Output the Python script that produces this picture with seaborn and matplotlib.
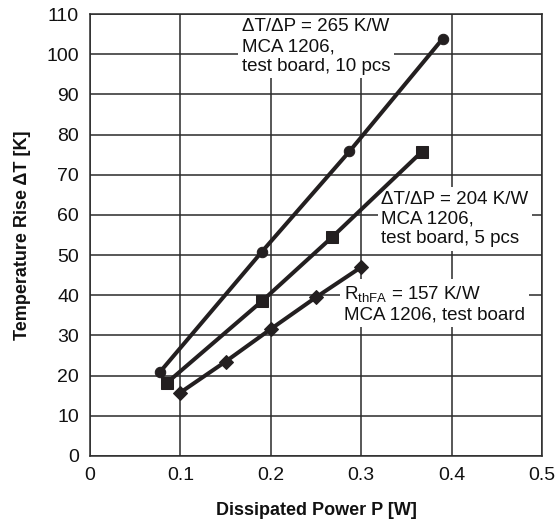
import matplotlib
matplotlib.use("Agg")
import matplotlib.pyplot as plt
import seaborn as sns
import pandas as pd

# ---- data ----
p_10pcs = [0.077, 0.19, 0.287, 0.39]
t_10pcs = [20.8, 50.8, 75.8, 103.8]
p_5pcs = [0.085, 0.19, 0.268, 0.367]
t_5pcs = [18.2, 38.5, 54.5, 75.7]
p_single = [0.10, 0.15, 0.20, 0.25, 0.30]
t_single = [15.8, 23.5, 31.6, 39.5, 47.0]

x_ticks = [0, 0.1, 0.2, 0.3, 0.4, 0.5]
x_tick_labels = ["0", "0.1", "0.2", "0.3", "0.4", "0.5"]
y_ticks = list(range(0, 111, 10))

label_10 = "ΔT/ΔP = 265 K/W\nMCA 1206,\ntest board, 10 pcs"
label_5 = "ΔT/ΔP = 204 K/W\nMCA 1206,\ntest board, 5 pcs"
label_1 = "R$_{\\mathrm{thFA}}$ = 157 K/W\nMCA 1206, test board"
x_label = "Dissipated Power P [W]"
y_label = "Temperature Rise ΔT [K]"

sns.set_theme(style="white")
plt.rcParams["font.family"] = ["Liberation Sans", "DejaVu Sans"]
plt.rcParams["mathtext.fontset"] = "custom"
plt.rcParams["mathtext.rm"] = "Liberation Sans"
plt.rcParams["mathtext.it"] = "Liberation Sans:italic"
plt.rcParams["mathtext.bf"] = "Liberation Sans:bold"

ink = "#231f20"
grid_c = "#2a2a2a"

fig = plt.figure(figsize=(5.56, 5.23), dpi=100)
ax = fig.add_axes([90 / 556, 1 - 456 / 523, 452 / 556, 442 / 523])

df10 = pd.DataFrame({"P": p_10pcs, "T": t_10pcs})
df5 = pd.DataFrame({"P": p_5pcs, "T": t_5pcs})
df1 = pd.DataFrame({"P": p_single, "T": t_single})

common = dict(x="P", y="T", ax=ax, color=ink, linewidth=2.9, zorder=4,
              markeredgecolor=ink, markerfacecolor=ink)
sns.lineplot(data=df10, marker="o", markersize=7.5, **common)
sns.lineplot(data=df5, marker="s", markersize=8, **common)
sns.lineplot(data=df1, marker="D", markersize=7.5, **common)

ax.set_xlim(0, 0.5)
ax.set_ylim(0, 110)
ax.set_xticks(x_ticks)
ax.set_xticklabels(x_tick_labels)
ax.set_yticks(y_ticks)
ax.grid(True, color=grid_c, linewidth=1.1, zorder=0)
ax.set_axisbelow(True)
for s in ax.spines.values():
    s.set_color(grid_c)
    s.set_linewidth(1.1)
ax.tick_params(axis="both", length=0, labelsize=14, colors="#111111", pad=8)

ax.set_xlabel(x_label, fontsize=13, fontweight="bold", labelpad=13, color="#111111")
ax.set_ylabel(y_label, fontsize=13, fontweight="bold", labelpad=11, color="#111111")

box = dict(facecolor="white", edgecolor="none", pad=2.5)
tkw = dict(fontsize=13.5, ha="left", va="top", color="#111111", bbox=box,
           zorder=3, linespacing=1.2)
ax.text(0.168, 108.9, label_10, **tkw)
ax.text(0.322, 66.0, label_5, **tkw)
ax.text(0.281, 42.8, label_1, **tkw)

fig.savefig("out.png", dpi=100)
